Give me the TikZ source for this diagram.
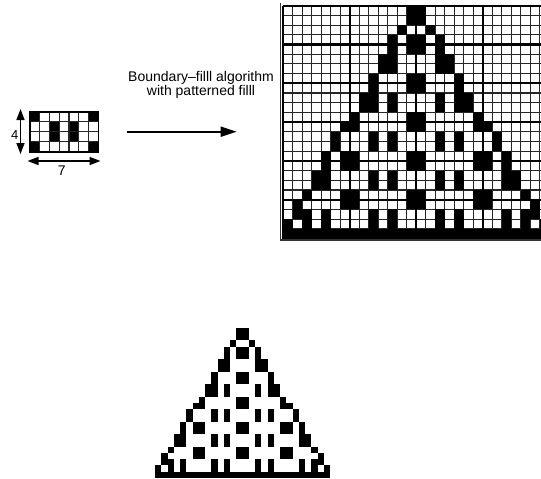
\documentclass[tikz,border=0pt]{standalone}
\usepackage{fontspec}
\setmainfont[Ligatures=NoCommon]{Liberation Sans}
\usetikzlibrary{arrows.meta}
\def\trirows{0/{13,14},1/{13,14},2/{12,15},3/{11,13,14,16},4/{11,13,14,16},5/{10,11,16,17},6/{10,11,16,17},7/{9,13,14,18},8/{9,13,14,18},9/{8,9,11,16,18,19},10/{8,9,11,16,18,19},11/{7,13,14,20},12/{6,7,13,14,20,21},13/{5,9,11,16,18,22},14/{5,9,11,16,18,22},15/{4,6,7,13,14,20,21,23},16/{4,6,7,13,14,20,21,23},17/{3,4,9,11,16,18,23,24},18/{3,4,9,11,16,18,23,24},19/{2,6,7,13,14,20,21,25},20/{1,6,7,13,14,20,21,26},21/{1,2,4,9,11,16,18,23,25,26},22/{0,2,4,9,11,16,18,23,25,27},23/{0,1,2,3,4,5,6,7,8,9,10,11,12,13,14,15,16,17,18,19,20,21,22,23,24,25,26,27}}
\begin{document}
\begin{tikzpicture}[x=1pt,y=-1pt,
  thinline/.style={draw=black!85, line width=1.1pt},
  thickline/.style={draw=black, line width=2.2pt},
  framebar/.style={draw=black!80, line width=1.4pt},
  dimarrow/.style={{Triangle[length=11pt,width=8pt]}-{Triangle[length=11pt,width=8pt]}, line width=1.4pt},
  mainarrow/.style={-{Triangle[length=16pt,width=10pt]}, line width=2pt},
  lbl/.style={inner sep=0pt, font=\fontsize{14}{13.3}\selectfont}]
\useasboundingbox (0,0) rectangle (541,479);
\fill[white] (0,0) rectangle (541,479);

% ---- big grid ----
\begin{scope}
\clip (278,0) rectangle (541,479);
\foreach \i in {0,...,28} \draw[thinline] ({283.3+\i*9.5},5.7) -- ({283.3+\i*9.5},238.5);
\foreach \j in {0,...,24} \draw[thinline] (283.3,{5.7+\j*9.7}) -- (549.3,{5.7+\j*9.7});
\foreach \i in {0,7,14,21,28} \draw[thickline] ({283.3+\i*9.5},5.7) -- ({283.3+\i*9.5},238.5);
\foreach \j in {0,4,8,12,16,20,24} \draw[thickline] (283.3,{5.7+\j*9.7}) -- (549.3,{5.7+\j*9.7});
\foreach \r/\cols in \trirows {
  \foreach \c in \cols {
    \fill ({283.3+\c*9.5},{5.7+\r*9.7}) rectangle ++(9.5,9.7);
  }
}
\draw[framebar] (280.7,3) -- (280.7,239.8) -- (545,239.8);
\end{scope}

% ---- result triangle ----
\foreach \r/\cols in \trirows {
  \foreach \c in \cols {
    \fill ({155+\c*6.25},{327.9+\r*6.25}) rectangle ++(6.25,6.25);
  }
}

% ---- pattern ----
\foreach \c/\r in {0/0,6/0,2/1,4/1,2/2,4/2,0/3,6/3}
  \fill ({30+\c*9.76},{111.7+\r*10}) rectangle ++(9.76,10);
\foreach \i in {1,...,6} \draw[thinline] ({30+\i*9.76},111.7) -- ({30+\i*9.76},151.7);
\foreach \j in {1,2,3} \draw[thinline] (30,{111.7+\j*10}) -- (98.3,{111.7+\j*10});
\draw[black, line width=1.6pt] (30,111.7) rectangle (98.3,151.7);

\coordinate (vtop) at (20.5,109);
\coordinate (vbot) at (20.5,154);
\draw[dimarrow] (vtop) -- (vbot);
\node[lbl, font=\fontsize{13}{13}\selectfont] (four) at (14.8,135.5) {4};
\coordinate (hleft) at (27.5,161);
\coordinate (hright) at (100.5,161);
\draw[dimarrow] (hleft) -- (hright);
\node[lbl] (seven) at (61.7,170.5) {7};

% ---- main arrow and caption ----
\node[lbl, align=center, anchor=base] (cap) at (201,95) {Boundary\textendash filll algorithm\\with patterned filll};
\coordinate (aS) at (126.7,131.7);
\coordinate (aE) at (236.7,131.7);
\draw[mainarrow] (aS) -- (aE);
\end{tikzpicture}
\end{document}
